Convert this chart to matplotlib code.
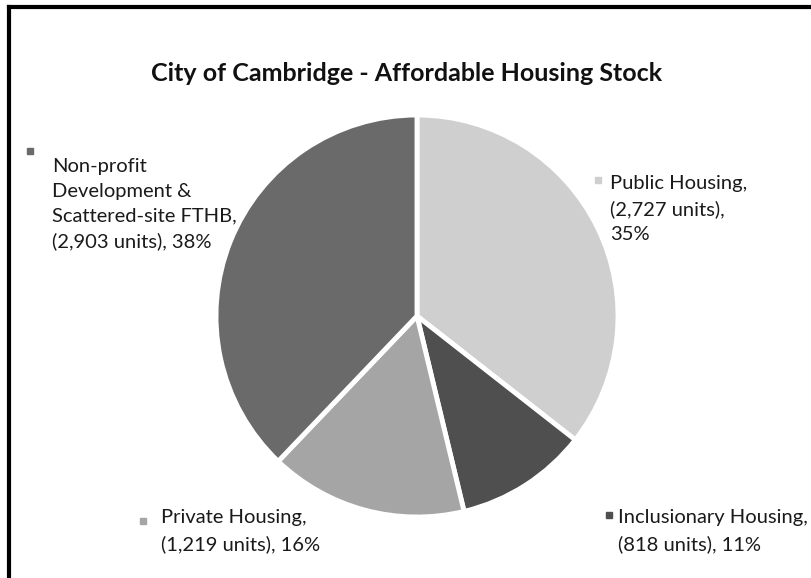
import matplotlib.pyplot as plt
from matplotlib.lines import Line2D

# data (clockwise from 12 o'clock)
categories = ['Public Housing', 'Inclusionary Housing', 'Private Housing',
              'Non-profit Development & Scattered-site FTHB']
units = [2727, 818, 1219, 2903]
percents = [35, 11, 16, 38]
label_text = [
    'Public Housing,\n(2,727 units),\n35%',
    'Inclusionary Housing,\n(818 units), 11%',
    'Private Housing,\n(1,219 units), 16%',
    'Non-profit\nDevelopment &\nScattered-site FTHB,\n(2,903 units), 38%',
]
colors = ['#cfcfcf', '#4f4f4f', '#a5a5a5', '#6a6a6a']

W, H = 812, 578
plt.rcParams['font.family'] = ['Lato', 'DejaVu Sans']

fig = plt.figure(figsize=(W / 100, H / 100), dpi=100)
ax = fig.add_axes([0, 0, 1, 1])

# pie, pixel units (y measured from the bottom)
cx, cy, r = 417, H - 316, 201
ax.pie(units, colors=colors, startangle=90, counterclock=False,
       center=(cx, cy), radius=r, frame=True,
       wedgeprops=dict(edgecolor='white', linewidth=3.5))
ax.set_xlim(0, W)
ax.set_ylim(0, H)
ax.set_aspect('equal')
ax.axis('off')

# title
ax.text(407, H - 74, 'City of Cambridge - Affordable Housing Stock',
        ha='center', va='center', fontsize=18, fontweight='bold', color='#111111')

# labels: (marker x, marker y, text x, text top y, line spacing) in pixels from top-left
label_pos = [
    (598, 180, 610, 175, 1.55),
    (609, 515, 618, 509, 1.65),
    (143, 521, 161, 509, 1.65),
    (30, 151, 52, 158, 1.55),
]
for (mx, my, tx, ty, ls), txt, c in zip(label_pos, label_text, colors):
    ax.plot(mx, H - my, marker='s', markersize=5, color=c, markeredgecolor=c)
    ax.text(tx, H - ty, txt, ha='left', va='top', fontsize=14.5,
            color='#1a1a1a', linespacing=ls)

# scanned frame: top and left edges only
fig.add_artist(Line2D([9 / W, 1], [1 - 7 / H, 1 - 7 / H], color='black', lw=3))
fig.add_artist(Line2D([9 / W, 9 / W], [0, 1 - 7 / H], color='black', lw=3))

fig.savefig('out.png', dpi=100)
